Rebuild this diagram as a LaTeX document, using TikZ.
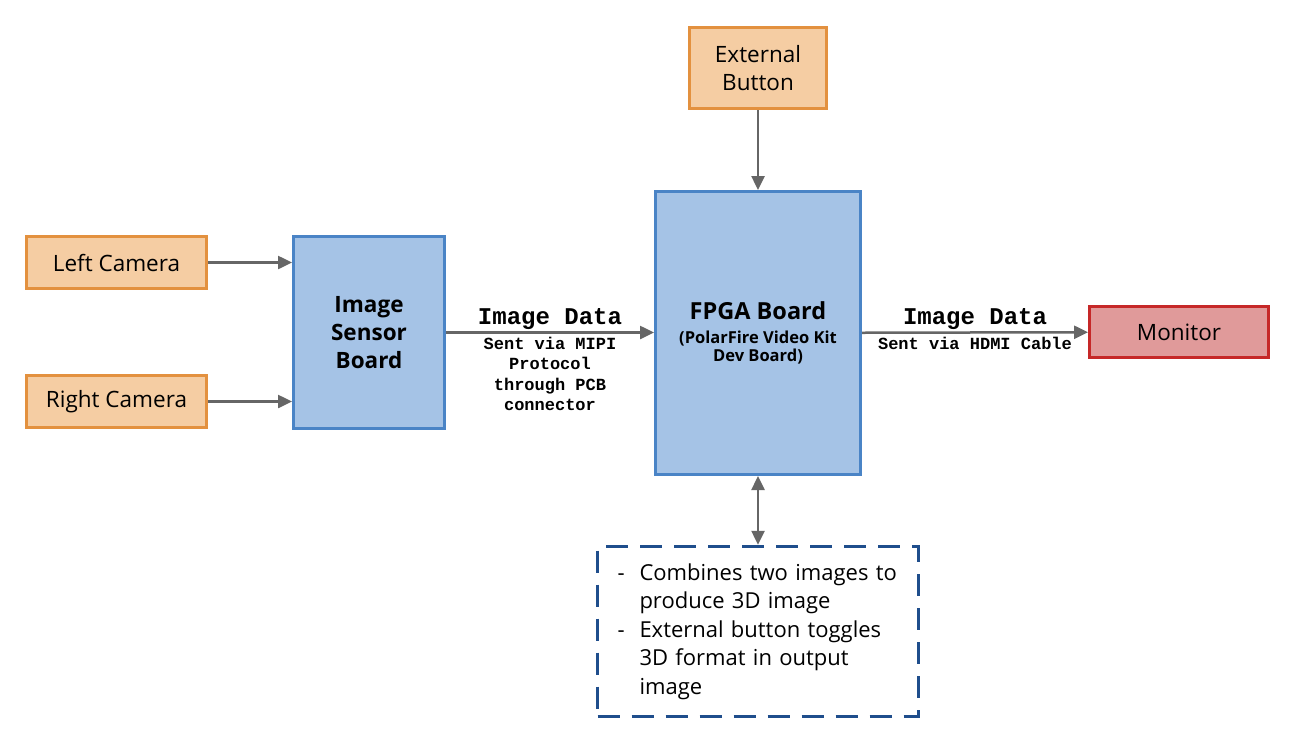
\documentclass[tikz,border=0pt]{standalone}
\usepackage{fontspec}
\setmainfont{Open Sans}
\setmonofont{Liberation Mono}
\usetikzlibrary{arrows.meta}

\definecolor{orangefill}{HTML}{F5CDA3}
\definecolor{orangeline}{HTML}{E3913F}
\definecolor{bluefill}{HTML}{A5C3E6}
\definecolor{blueline}{HTML}{4A84C6}
\definecolor{redfill}{HTML}{E09A9A}
\definecolor{redline}{HTML}{C62828}
\definecolor{noteline}{HTML}{1F4E8C}
\definecolor{arrowgray}{HTML}{666666}

\tikzset{
  orangebox/.style={draw=orangeline, fill=orangefill, line width=3pt, minimum width=180pt, minimum height=52pt, font=\fontsize{22.5}{28}\selectfont},
  bluebox/.style={draw=blueline, fill=bluefill, line width=3pt, align=center},
  redbox/.style={draw=redline, fill=redfill, line width=3pt, minimum width=179pt, minimum height=51pt, font=\fontsize{22.5}{28}\selectfont},
  notebox/.style={draw=noteline, line width=3.5pt, dash pattern=on 22pt off 12pt, minimum width=321pt, minimum height=170pt, inner xsep=20pt, text width=281pt, align=left, font=\fontsize{22}{28.5}\selectfont},
  conn/.style={draw=arrowgray, line width=2.5pt, -{Triangle[length=14pt,width=13pt]}},
  dconn/.style={draw=arrowgray, line width=2.5pt, {Triangle[length=14pt,width=13pt]}-{Triangle[length=14pt,width=13pt]}},
  biglabel/.style={font=\fontsize{24}{26}\selectfont\ttfamily\bfseries, inner sep=2pt},
  smalllabel/.style={font=\fontsize{17}{20.5}\selectfont\ttfamily\bfseries, inner sep=3pt, align=center}
}

\begin{document}
\begin{tikzpicture}[x=1pt,y=-1pt]
  \useasboundingbox (0,0) rectangle (1300,752);

  % Input side
  \node[orangebox] (leftcam) at (116.5,262.5) {Left Camera};
  \node[orangebox] (rightcam) at (116.5,401.5) {Right Camera};
  \node[bluebox, minimum width=151pt, minimum height=192pt, font=\fontsize{22.5}{28}\selectfont\bfseries] (sensor) at (369,332.5) {Image\\Sensor\\Board};

  % Main board
  \node[bluebox, minimum width=205pt, minimum height=283pt, font=\bfseries] (fpga) at (758,333) {\fontsize{23.5}{26}\selectfont FPGA Board\\[10pt]\fontsize{16.5}{19}\selectfont (PolarFire Video Kit\\[2pt]\fontsize{16.5}{19}\selectfont Dev Board)};
  \node[orangebox, minimum width=137pt, minimum height=81pt, align=center] (button) at (758,68) {External\\Button};
  \node[redbox] (monitor) at (1179,332) {Monitor};

  % Note
  \node[notebox] (note) at (758,631.5) {\makebox[22pt][l]{-}Combines two images to\\
    \hspace*{22pt}produce 3D image\\
    \makebox[22pt][l]{-}External button toggles\\
    \hspace*{22pt}3D format in output\\
    \hspace*{22pt}image};

  % Connectors
  \draw[conn] (leftcam) -- (leftcam -| sensor.west);
  \draw[conn] (rightcam) -- (rightcam -| sensor.west);
  \draw[conn] (sensor) -- node[biglabel, above] {Image Data} node[smalllabel, below] {Sent via MIPI\\Protocol\\through PCB\\connector} (sensor -| fpga.west);
  \draw[conn] (button) -- (fpga);
  \draw[conn] (fpga) -- node[biglabel, above] {Image Data} node[smalllabel, below] {Sent via HDMI Cable} (monitor);
  \draw[dconn] (fpga) -- (note);
\end{tikzpicture}
\end{document}
